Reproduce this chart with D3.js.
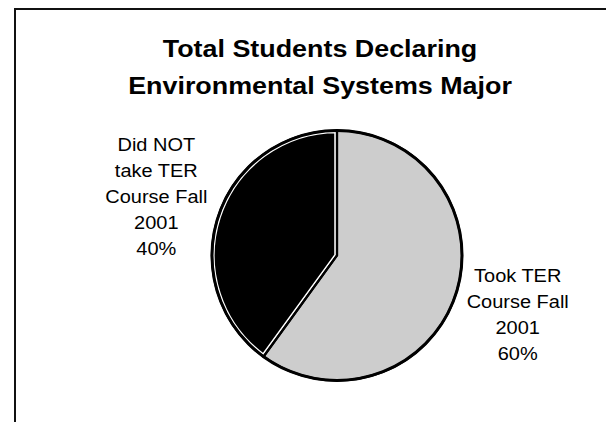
<!DOCTYPE html>
<html>
<head>
<meta charset="utf-8">
<script src="https://cdn.jsdelivr.net/npm/d3@7"></script>
<style>
  html, body { margin: 0; padding: 0; background: #fff; }
  svg { display: block; }
  text { font-family: "Liberation Sans", Arial, sans-serif; fill: #000; }
</style>
</head>
<body>
<script>
// ---- data ----
const titleLines = ["Total Students Declaring", "Environmental Systems Major"];
const categories = ["Took TER Course Fall 2001", "Did NOT take TER Course Fall 2001"];
const values = [60, 40];
const labelLines = [["Took TER", "Course Fall", "2001"], ["Did NOT", "take TER", "Course Fall", "2001"]];
const sliceStyle = ["light", "dark"];

// ---- layout ----
const W = 606, H = 422;
const cx = 337, cy = 255.5, r = 125;
const labelR = 190, lineH = 26;
const sx = 1.12;

const svg = d3.select("body").append("svg").attr("width", W).attr("height", H);
svg.append("rect").attr("width", W).attr("height", H).attr("fill", "#fff");

const defs = svg.append("defs");
const pat = defs.append("pattern").attr("id", "dither")
  .attr("width", 2).attr("height", 2).attr("patternUnits", "userSpaceOnUse");
pat.append("rect").attr("width", 2).attr("height", 2).attr("fill", "#f4f4f4");
pat.append("rect").attr("width", 1).attr("height", 1).attr("fill", "#a6a6a6");
pat.append("rect").attr("x", 1).attr("y", 1).attr("width", 1).attr("height", 1).attr("fill", "#a6a6a6");

// frame (partial border from the scan)
svg.append("path").attr("d", `M15,${H + 5} L15,9 L${W + 5},9`)
  .attr("fill", "none").attr("stroke", "#111").attr("stroke-width", 2);

// title
svg.append("g").attr("transform", "translate(320,0)")
  .selectAll("text").data(titleLines).join("text")
  .attr("transform", (d, i) => `translate(0,${57 + i * 36.5}) scale(${sx},1)`)
  .attr("text-anchor", "middle")
  .attr("font-size", 24).attr("font-weight", "bold")
  .text(d => d);

// pie
const total = d3.sum(values);
const pie = d3.pie().sort(null).value(d => d.v);
const arcs = pie(values.map((v, i) => ({ v, i })));
const arc = d3.arc().innerRadius(0).outerRadius(r);
const g = svg.append("g").attr("transform", `translate(${cx},${cy})`);

// dark slice with white inner edge
arcs.filter(a => sliceStyle[a.data.i] === "dark").forEach(a => {
  g.append("path").attr("d", arc(a)).attr("fill", "#000")
    .attr("stroke", "#fff").attr("stroke-width", 5.5).attr("stroke-linejoin", "miter");
});
arcs.filter(a => sliceStyle[a.data.i] === "light").forEach(a => {
  g.append("path").attr("d", arc(a)).attr("fill", "url(#dither)");
});
// slice outlines
g.selectAll("path.edge").data(arcs).join("path").attr("class", "edge")
  .attr("d", arc).attr("fill", "none").attr("stroke", "#000").attr("stroke-width", 2.2);
// heavier outer circle
g.append("circle").attr("r", r).attr("fill", "none").attr("stroke", "#000").attr("stroke-width", 3);

// labels
const fmt = d3.format(".0%");
arcs.forEach(a => {
  const mid = (a.startAngle + a.endAngle) / 2;
  const x = cx + labelR * Math.sin(mid);
  const y = cy - labelR * Math.cos(mid);
  const lines = labelLines[a.data.i].concat([fmt(a.data.v / total)]);
  const n = lines.length;
  const lg = svg.append("g").attr("transform", `translate(${x},${y})`);
  lg.selectAll("text").data(lines).join("text")
    .attr("transform", (d, j) => `translate(0,${(j - (n - 1) / 2) * lineH + 6.5}) scale(1.08,1)`)
    .attr("text-anchor", "middle")
    .attr("font-size", 18.5)
    .text(d => d);
});
</script>
</body>
</html>
